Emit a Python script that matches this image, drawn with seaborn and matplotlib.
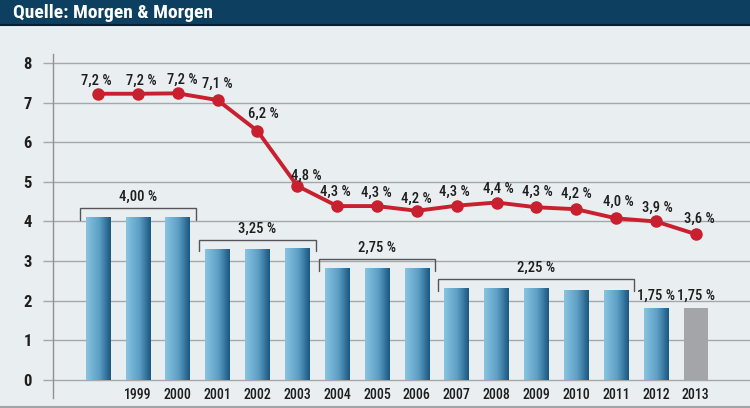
import numpy as np
import pandas as pd
import matplotlib
matplotlib.use("Agg")
import matplotlib.pyplot as plt
import seaborn as sns
from matplotlib import font_manager
from matplotlib.font_manager import FontProperties
from matplotlib.colors import LinearSegmentedColormap
from matplotlib.patches import Rectangle
from matplotlib.lines import Line2D

# ---------------- data ----------------
years = ['1998', '1999', '2000', '2001', '2002', '2003', '2004', '2005',
         '2006', '2007', '2008', '2009', '2010', '2011', '2012', '2013']
tick_labels = ['', '1999', '2000', '2001', '2002', '2003', '2004', '2005',
               '2006', '2007', '2008', '2009', '2010', '2011', '2012', '2013']
bar_values = [4.12, 4.12, 4.12, 3.30, 3.30, 3.32, 2.83, 2.83, 2.83,
              2.32, 2.32, 2.32, 2.28, 2.28, 1.81, 1.81]
line_values = [7.23, 7.23, 7.24, 7.07, 6.29, 4.90, 4.39, 4.39, 4.27,
               4.40, 4.48, 4.36, 4.31, 4.08, 4.00, 3.68]
line_labels = ['7,2 %', '7,2 %', '7,2 %', '7,1 %', '6,2 %', '4,8 %', '4,3 %',
               '4,3 %', '4,2 %', '4,3 %', '4,4 %', '4,3 %', '4,2 %', '4,0 %',
               '3,9 %', '3,6 %']
bracket_labels = ['4,00 %', '3,25 %', '2,75 %', '2,25 %']
bracket_first = [0, 3, 6, 9]
bracket_last = [2, 5, 8, 13]
single_labels = ['1,75 %', '1,75 %']
single_index = [14, 15]
y_ticks = [0, 1, 2, 3, 4, 5, 6, 7, 8]
title = 'Quelle: Morgen & Morgen'

# ---------------- style ----------------
BG = '#e9eef1'
HEADER = '#0d3f61'
GRID = '#a4a8ab'
RED = '#c8202f'
BLUE = '#5da0c6'
GRAY = '#a3a5a8'
TXT = '#1e1e1e'

label_dx = [-2, 3, 5, 0, 6, 9, -2, -1, 0, -2, 2, 1, 0, 2, 1, 4]
label_dy = [12, 12, 12, 15, 16, 9, 13, 12, 11, 13, 13, 14, 14, 15, 13, 14]

sns.set_theme(style="white")

names = {f.name for f in font_manager.fontManager.ttflist}
cond_family, cond_stretch = 'DejaVu Sans', 'normal'
for cand in ['Roboto Condensed', 'Liberation Sans Narrow', 'DejaVu Sans Condensed',
             'Open Sans Condensed', 'Noto Sans Condensed']:
    if cand in names:
        cond_family = cand
        break
else:
    if any(f.name == 'DejaVu Sans' and f.stretch in ('condensed', 'semi-condensed')
           for f in font_manager.fontManager.ttflist):
        cond_stretch = 'condensed'


def fp(size, weight='normal'):
    return FontProperties(family=cond_family, stretch=cond_stretch,
                          size=size, weight=weight)


W, H = 750, 408
fig = plt.figure(figsize=(W / 100, H / 100), dpi=100, facecolor=BG)
ax = fig.add_axes([53 / W, 10 / H, 697 / W, 344 / H])
ax.set_facecolor(BG)

x = np.arange(len(years))
df = pd.DataFrame({'pos': x, 'year': years, 'rate': bar_values})
palette = {y: BLUE for y in years}
palette[years[-1]] = GRAY
sns.barplot(data=df, x='pos', y='rate', hue='year', palette=palette,
            width=0.615, legend=False, saturation=1, ax=ax, zorder=2,
            linewidth=0)

# gradient fill on blue bars
cmap = LinearSegmentedColormap.from_list(
    'cyl', [(0, '#88c4e1'), (0.55, '#5b9dc4'), (1.0, '#1b5780')])
grad = np.linspace(0, 1, 64).reshape(1, -1)
patches = list(ax.patches)
for i, p in enumerate(patches):
    if i == len(patches) - 1:
        continue
    x0, y0 = p.get_x(), p.get_y()
    w, h = p.get_width(), p.get_height()
    im = ax.imshow(grad, extent=[x0, x0 + w, y0, y0 + h], cmap=cmap,
                   aspect='auto', zorder=2.1, interpolation='bicubic')
    im.set_clip_path(p)

sns.lineplot(x=x, y=line_values, color=RED, linewidth=2.8, marker='o',
             markersize=9, markeredgewidth=0, ax=ax, zorder=4)

LAB = 10.5
for i, (v, lab) in enumerate(zip(line_values, line_labels)):
    ax.annotate(lab, (i, v), xytext=(label_dx[i], label_dy[i] + 1),
                textcoords='offset pixels', ha='center', va='center',
                fontproperties=fp(LAB, 'medium'), color=TXT, zorder=5)

for lab, a, b in zip(bracket_labels, bracket_first, bracket_last):
    top = max(bar_values[a:b + 1]) + 0.22
    bot = top - 0.29
    xl, xr = a - 0.46, b + 0.46
    ax.plot([xl, xl, xr, xr], [bot, top, top, bot], color='#555555',
            lw=1.0, zorder=3, solid_joinstyle='miter')
    ax.text((xl + xr) / 2, top + 0.28, lab, ha='center', va='center',
            fontproperties=fp(LAB, 'medium'), color=TXT, zorder=5)

for lab, i in zip(single_labels, single_index):
    ax.text(i, bar_values[i] + 0.3, lab, ha='center', va='center',
            fontproperties=fp(LAB, 'medium'), color=TXT, zorder=5)

ax.set_xlim(-1.129, 16.36)
ax.set_ylim(-0.463, 8.235)
ax.set_xticks(x)
ax.set_xticklabels(tick_labels)
ax.set_yticks(y_ticks)
ax.set_yticklabels([str(t) for t in y_ticks])
for t in ax.get_xticklabels():
    t.set_fontproperties(fp(10, 'medium'))
    t.set_color(TXT)
for t in ax.get_yticklabels():
    t.set_fontproperties(fp(12, 'bold'))
    t.set_color(TXT)
ax.tick_params(axis='x', length=0, pad=-7.0)
ax.tick_params(axis='y', length=7.2, width=1, color=GRID, pad=8, left=True)
ax.set_xlabel('')
ax.set_ylabel('')
ax.grid(axis='y', color=GRID, lw=1)
ax.grid(axis='x', visible=False)
ax.set_axisbelow(True)
for s in ['top', 'right', 'bottom']:
    ax.spines[s].set_visible(False)
ax.spines['left'].set_color('#8e9295')
ax.spines['left'].set_linewidth(1)

# header
fig.patches.append(Rectangle((0, 1 - 25 / H), 1, 25 / H, transform=fig.transFigure,
                             facecolor=HEADER, edgecolor='none', zorder=0))
fig.lines.append(Line2D([0, 1], [1 - 25 / H, 1 - 25 / H], transform=fig.transFigure,
                        color='#081f33', lw=1.5))
fig.text(13 / W, 1 - 12.5 / H, title, ha='left', va='center', color='white',
         fontproperties=fp(14, 'bold'))
fig.lines.append(Line2D([0, 1], [1.5 / H, 1.5 / H], transform=fig.transFigure,
                        color='#a0a4a7', lw=1.5))

fig.savefig('out.png', dpi=100, facecolor=BG)
